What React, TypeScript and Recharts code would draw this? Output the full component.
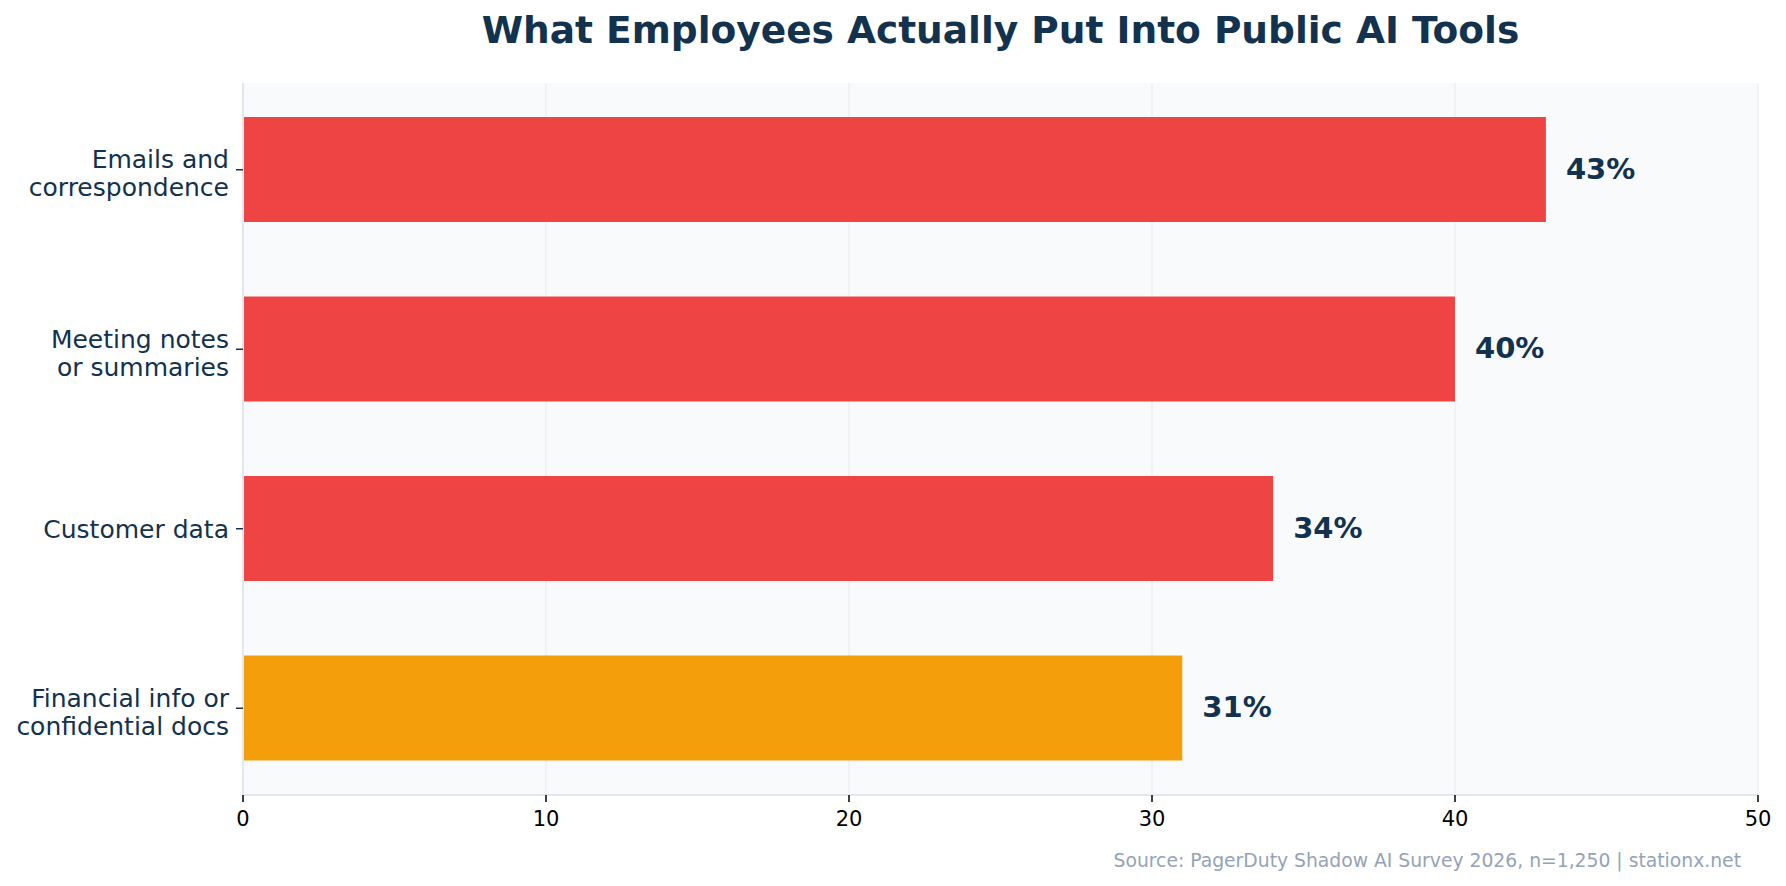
import { BarChart, Bar, XAxis, YAxis, CartesianGrid, Cell, LabelList } from 'recharts'

const categories = [
  'Emails and\ncorrespondence',
  'Meeting notes\nor summaries',
  'Customer data',
  'Financial info or\nconfidential docs',
]
const shares = [43, 40, 34, 31]
const barColors = ['#ef4444', '#ef4444', '#ef4444', '#f59e0b']
const xTicks = [0, 10, 20, 30, 40, 50]

const TITLE = 'What Employees Actually Put Into Public AI Tools'
const SOURCE = 'Source: PagerDuty Shadow AI Survey 2026, n=1,250 | stationx.net'

const NAVY = '#12324d'
const FONT = '"DejaVu Sans", sans-serif'

const data = categories.map((name, i) => ({ name, value: shares[i] }))

// multi-line category labels, right aligned against the tick
// eslint-disable-next-line @typescript-eslint/no-explicit-any
function CategoryTick({ x, y, payload }: any) {
  const lines = String(payload.value).split('\n')
  const first = lines.length > 1 ? y - 1.5 : y + 9.5
  return (
    <text x={x} y={first} textAnchor="end" fill={NAVY} fontSize={25} fontFamily={FONT}>
      {lines.map((line, i) => (
        <tspan key={i} x={x} dy={i === 0 ? 0 : 28}>
          {line}
        </tspan>
      ))}
    </text>
  )
}

// eslint-disable-next-line @typescript-eslint/no-explicit-any
function ValueLabel({ x, y, width, height, value }: any) {
  return (
    <text
      x={x + width + 20}
      y={y + height / 2 + 9}
      fill={NAVY}
      fontSize={29}
      fontWeight={700}
      fontFamily={FONT}
    >
      {value}%
    </text>
  )
}

export default function App() {
  return (
    <div style={{ position: 'absolute', left: 0, top: 0, width: 1786, height: 886, background: '#fff' }}>
      <BarChart
        width={1786}
        height={886}
        data={data}
        layout="vertical"
        margin={{ top: 83, right: 28, bottom: 51, left: 0 }}
      >
        <CartesianGrid
          horizontal={false}
          fill="#f8fafc"
          stroke="#eef1f5"
          strokeWidth={1.5}
        />
        <XAxis
          type="number"
          domain={[0, 50]}
          ticks={xTicks}
          height={40}
          axisLine={{ stroke: '#e2e8f0', strokeWidth: 2 }}
          tickLine={{ stroke: '#000', strokeWidth: 1.5 }}
          tickSize={7}
          tickMargin={9}
          tick={{ fill: '#000', fontSize: 21, fontFamily: FONT }}
        />
        <YAxis
          type="category"
          dataKey="name"
          width={243}
          padding={{ top: -3, bottom: -3 }}
          axisLine={{ stroke: '#e2e8f0', strokeWidth: 2 }}
          tickLine={{ stroke: NAVY, strokeWidth: 1.5 }}
          tickSize={7}
          tickMargin={7}
          tick={<CategoryTick />}
          interval={0}
        />
        <Bar dataKey="value" barSize={105} isAnimationActive={false}>
          {data.map((_, i) => (
            <Cell key={i} fill={barColors[i]} />
          ))}
          <LabelList dataKey="value" content={<ValueLabel />} />
        </Bar>
        <text
          x={1000.5}
          y={43}
          textAnchor="middle"
          fill={NAVY}
          fontSize={37.5}
          fontWeight={700}
          fontFamily={FONT}
        >
          {TITLE}
        </text>
        <text x={1741} y={867} textAnchor="end" fill="#94a3b8" fontSize={18.75} fontFamily={FONT}>
          {SOURCE}
        </text>
      </BarChart>
    </div>
  )
}
